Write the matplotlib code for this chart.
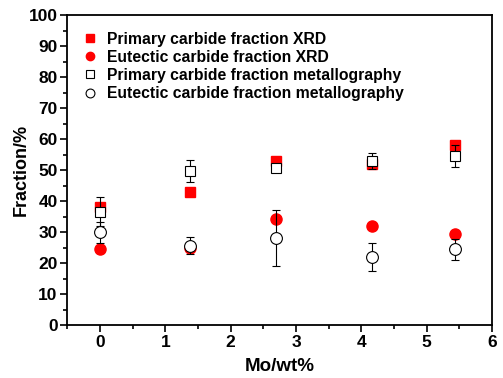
import matplotlib
matplotlib.use("Agg")
import matplotlib.pyplot as plt
from matplotlib.ticker import MultipleLocator

plt.rcParams["font.family"] = ["Liberation Sans", "DejaVu Sans"]
plt.rcParams["font.weight"] = "bold"

# Mo content of the five alloys
mo = [0.0, 1.38, 2.70, 4.17, 5.43]

primary_xrd = [38.0, 43.0, 52.8, 52.0, 58.0]
eutectic_xrd = [24.5, 25.0, 34.3, 32.0, 29.4]

primary_met = [36.6, 49.8, 50.7, 53.0, 54.5]
primary_met_err = [4.7, 3.6, 1.0, 2.5, 3.5]
eutectic_met = [30.0, 25.6, 28.0, 22.0, 24.4]
eutectic_met_err = [3.4, 2.8, 9.0, 4.6, 3.3]

fig = plt.figure(figsize=(5.03, 3.78), dpi=100)
ax = fig.add_axes([0.134, 0.140, 0.844, 0.820])

ax.plot(mo, primary_xrd, "s", color="#ff0000", ms=7.5, mec="#ff0000",
        label="Primary carbide fraction XRD", zorder=2)
ax.plot(mo, eutectic_xrd, "o", color="#ff0000", ms=8, mec="#ff0000",
        label="Eutectic carbide fraction XRD", zorder=2)
ax.errorbar(mo, primary_met, yerr=primary_met_err, fmt="s", ms=7.5,
            mfc="white", mec="black", mew=0.8, ecolor="black",
            elinewidth=0.8, capsize=3, capthick=0.8,
            label="Primary carbide fraction metallography", zorder=3)
ax.errorbar(mo, eutectic_met, yerr=eutectic_met_err, fmt="o", ms=8.5,
            mfc="white", mec="black", mew=0.8, ecolor="black",
            elinewidth=0.8, capsize=3, capthick=0.8,
            label="Eutectic carbide fraction metallography", zorder=3)

ax.set_xlim(-0.5, 6)
ax.set_ylim(0, 100)
ax.xaxis.set_major_locator(MultipleLocator(1))
ax.xaxis.set_minor_locator(MultipleLocator(0.5))
ax.yaxis.set_major_locator(MultipleLocator(10))
ax.yaxis.set_minor_locator(MultipleLocator(5))
ax.tick_params(which="major", direction="out", length=5, width=1.2, labelsize=12.5, pad=2)
ax.tick_params(which="minor", direction="out", length=3, width=1.2)
for s in ax.spines.values():
    s.set_linewidth(1.3)

ax.set_xlabel("Mo/wt%", fontsize=13.5, fontweight="bold", labelpad=6)
ax.set_ylabel("Fraction/%", fontsize=13, fontweight="bold", labelpad=-1)

handles, labels = ax.get_legend_handles_labels()
handles = [h[0] if hasattr(h, "lines") else h for h in handles]
leg = ax.legend(handles, labels, loc="upper left", frameon=False, fontsize=11.3,
                handlelength=0.8, handletextpad=0.7, labelspacing=0.2,
                borderaxespad=0.65, markerscale=0.75)

fig.savefig("out.png", dpi=100)
